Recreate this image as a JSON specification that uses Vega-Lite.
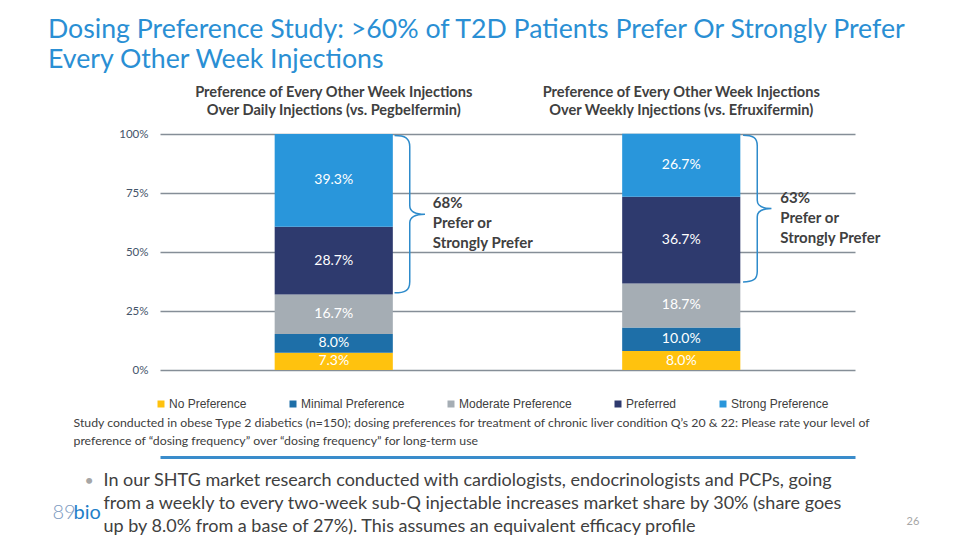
{
  "$schema": "https://vega.github.io/schema/vega-lite/v6.json",
  "width": 695,
  "height": 236,
  "autosize": {"type": "none"},
  "padding": {"left": 160, "top": 134, "right": 105, "bottom": 170},
  "background": "white",
  "config": {"view": {"stroke": null}, "font": "Lato"},
  "title": {
    "text": ["Dosing Preference Study: >60% of T2D Patients Prefer Or Strongly Prefer", "Every Other Week Injections"],
    "anchor": "start",
    "frame": "group",
    "dx": -112,
    "offset": 10,
    "font": "Lato",
    "fontSize": 26.7,
    "fontWeight": "normal",
    "color": "#2A8FD4",
    "lineHeight": 30
  },
  "datasets": {
    "notes": [
      {"group": "Preference of Every Other Week Injections|Over Daily Injections (vs. Pegbelfermin)", "note": "68%|Prefer or|Strongly Prefer"},
      {"group": "Preference of Every Other Week Injections|Over Weekly Injections (vs. Efruxifermin)", "note": "63%|Prefer or|Strongly Prefer"}
    ]
  },
  "data": {
    "values": [
      {"group": "Preference of Every Other Week Injections|Over Daily Injections (vs. Pegbelfermin)", "category": "No Preference", "rank": 1, "block": "other", "value": 0.073},
      {"group": "Preference of Every Other Week Injections|Over Daily Injections (vs. Pegbelfermin)", "category": "Minimal Preference", "rank": 2, "block": "other", "value": 0.080},
      {"group": "Preference of Every Other Week Injections|Over Daily Injections (vs. Pegbelfermin)", "category": "Moderate Preference", "rank": 3, "block": "other", "value": 0.167},
      {"group": "Preference of Every Other Week Injections|Over Daily Injections (vs. Pegbelfermin)", "category": "Preferred", "rank": 4, "block": "prefer", "value": 0.287},
      {"group": "Preference of Every Other Week Injections|Over Daily Injections (vs. Pegbelfermin)", "category": "Strong Preference", "rank": 5, "block": "prefer", "value": 0.393},
      {"group": "Preference of Every Other Week Injections|Over Weekly Injections (vs. Efruxifermin)", "category": "No Preference", "rank": 1, "block": "other", "value": 0.080},
      {"group": "Preference of Every Other Week Injections|Over Weekly Injections (vs. Efruxifermin)", "category": "Minimal Preference", "rank": 2, "block": "other", "value": 0.100},
      {"group": "Preference of Every Other Week Injections|Over Weekly Injections (vs. Efruxifermin)", "category": "Moderate Preference", "rank": 3, "block": "other", "value": 0.187},
      {"group": "Preference of Every Other Week Injections|Over Weekly Injections (vs. Efruxifermin)", "category": "Preferred", "rank": 4, "block": "prefer", "value": 0.367},
      {"group": "Preference of Every Other Week Injections|Over Weekly Injections (vs. Efruxifermin)", "category": "Strong Preference", "rank": 5, "block": "prefer", "value": 0.267}
    ]
  },
  "resolve": {"axis": {"x": "independent", "y": "independent"}},
  "layer": [
    {
      "mark": {"type": "bar", "width": {"band": 0.34}},
      "encoding": {
        "x": {
          "field": "group", "type": "nominal", "sort": null,
          "scale": {"paddingInner": 0, "paddingOuter": 0},
          "axis": {
            "orient": "top", "title": null, "labelExpr": "split(datum.label, '|')",
            "labelAngle": 0, "labelFont": "Lato", "labelFontWeight": "bold", "labelFontSize": 14.6,
            "labelColor": "#404040", "labelLineHeight": 18, "labelPadding": 35, "labelLimit": 0,
            "ticks": false, "domain": false, "grid": false
          }
        },
        "y": {
          "field": "value", "type": "quantitative", "stack": "zero",
          "scale": {"domain": [0, 1], "nice": false},
          "axis": {
            "orient": "left", "values": [0, 0.25, 0.5, 0.75, 1], "format": ".0%",
            "labelFont": "Lato", "labelFontSize": 11.5, "labelColor": "#44546A", "labelPadding": 12,
            "ticks": false, "domain": false, "grid": true, "gridColor": "#858E97", "gridWidth": 1.3,
            "title": [
              "In our SHTG market research conducted with cardiologists, endocrinologists and PCPs, going",
              "from a weekly to every two-week sub-Q injectable increases market share by 30% (share goes",
              "up by 8.0% from a base of 27%). This assumes an equivalent efficacy profile"
            ],
            "titleAngle": 0, "titleX": -57, "titleY": 346, "titleAlign": "left", "titleBaseline": "middle",
            "titleFont": "Lato", "titleFontSize": 18, "titleFontWeight": "normal", "titleColor": "#404040",
            "titleLineHeight": 23
          }
        },
        "color": {
          "field": "category", "type": "nominal",
          "scale": {
            "domain": ["No Preference", "Minimal Preference", "Moderate Preference", "Preferred", "Strong Preference"],
            "range": ["#FFC20E", "#1E6FA8", "#A5ADB4", "#2E3A6E", "#2996DB"]
          },
          "legend": {
            "orient": "none", "legendX": -5, "legendY": 264, "direction": "horizontal", "title": null,
            "symbolType": "square", "symbolSize": 49, "symbolStrokeWidth": 0,
            "labelFont": "Liberation Sans", "labelFontSize": 12, "labelColor": "#404040",
            "columnPadding": 40, "labelOffset": 2
          }
        },
        "order": {"field": "rank", "type": "quantitative"}
      }
    },
    {
      "mark": {"type": "text", "color": "white", "font": "Lato", "fontSize": 14, "baseline": "middle", "align": "center"},
      "encoding": {
        "x": {
          "field": "group", "type": "nominal", "sort": null,
          "axis": {
            "orient": "bottom", "labels": false, "ticks": false, "grid": false,
            "domain": true, "domainColor": "#3A8CCB", "domainWidth": 3, "offset": 87,
            "title": [
              "Study conducted in obese Type 2 diabetics (n=150); dosing preferences for treatment of chronic liver condition Q’s 20 & 22: Please rate your level of",
              "preference of “dosing frequency” over “dosing frequency” for long-term use"
            ],
            "titleX": -87, "titleY": -35, "titleAlign": "left", "titleBaseline": "middle",
            "titleFont": "Lato", "titleFontSize": 12.3, "titleFontWeight": "normal", "titleColor": "#404040",
            "titleLineHeight": 18
          }
        },
        "y": {
          "field": "value", "type": "quantitative", "stack": "zero", "bandPosition": 0.5,
          "axis": {
            "orient": "right", "labels": false, "ticks": false, "domain": false, "grid": false,
            "title": "26", "titleAngle": 0, "titleX": 51, "titleY": 387, "titleAlign": "left", "titleBaseline": "middle",
            "titleFont": "Lato", "titleFontSize": 11, "titleFontWeight": "normal", "titleColor": "#A6A6A6"
          }
        },
        "detail": {"field": "category", "type": "nominal"},
        "order": {"field": "rank", "type": "quantitative"},
        "text": {"field": "value", "type": "quantitative", "format": ".1%"}
      }
    },
    {
      "transform": [
        {"aggregate": [{"op": "sum", "field": "value", "as": "total"}], "groupby": ["group", "block"]}
      ],
      "mark": {
        "type": "point", "filled": false, "color": "#2E8BCB", "strokeWidth": 1.5, "xOffset": 76,
        "shape": "M -0.19 -0.98 C -0.06 -0.98 0 -0.95 0 -0.84 L 0 -0.11 C 0 -0.03 0.06 0 0.19 0 C 0.06 0 0 0.03 0 0.11 L 0 0.84 C 0 0.95 -0.06 0.98 -0.19 0.98"
      },
      "encoding": {
        "x": {
          "field": "group", "type": "nominal", "sort": null,
          "axis": {
            "orient": "bottom", "labels": false, "ticks": false, "grid": false, "domain": false,
            "title": "89", "titleX": -108, "titleY": 142, "titleAlign": "left", "titleBaseline": "middle",
            "titleFont": "Lato", "titleFontSize": 20, "titleFontWeight": 300, "titleColor": "#7C9AC0"
          }
        },
        "y": {
          "field": "total", "type": "quantitative", "stack": "zero", "bandPosition": 0.5,
          "axis": {
            "orient": "left", "labels": false, "ticks": false, "grid": false, "domain": false,
            "title": "•", "titleAngle": 0, "titleX": -76, "titleY": 346, "titleAlign": "left", "titleBaseline": "middle",
            "titleFont": "Lato", "titleFontSize": 16, "titleFontWeight": "normal", "titleColor": "#A6A6A6"
          }
        },
        "detail": {"field": "block", "type": "nominal"},
        "order": {"field": "block", "sort": "ascending"},
        "size": {
          "field": "total", "type": "quantitative",
          "scale": {"type": "pow", "exponent": 2, "domain": [0, 1], "range": [0, 55696]},
          "legend": null
        },
        "opacity": {"condition": {"test": "datum.block === 'prefer'", "value": 1}, "value": 0}
      }
    },
    {
      "transform": [
        {"aggregate": [{"op": "sum", "field": "value", "as": "total"}], "groupby": ["group", "block"]},
        {"lookup": "group", "from": {"data": {"name": "notes"}, "key": "group", "fields": ["note"]}}
      ],
      "mark": {
        "type": "text", "align": "left", "baseline": "middle", "dx": 99, "dy": -11,
        "font": "Lato", "fontSize": 15, "fontWeight": "bold", "color": "#404040",
        "lineBreak": "|", "lineHeight": 20
      },
      "encoding": {
        "x": {
          "field": "group", "type": "nominal", "sort": null,
          "axis": {
            "orient": "bottom", "labels": false, "ticks": false, "grid": false, "domain": false,
            "title": "bio", "titleX": -87, "titleY": 142, "titleAlign": "left", "titleBaseline": "middle",
            "titleFont": "Lato", "titleFontSize": 20, "titleFontWeight": "normal", "titleColor": "#1F7FC9"
          }
        },
        "y": {"field": "total", "type": "quantitative", "stack": "zero", "bandPosition": 0.5, "axis": null},
        "detail": {"field": "block", "type": "nominal"},
        "order": {"field": "block", "sort": "ascending"},
        "text": {"condition": {"test": "datum.block === 'prefer'", "field": "note"}, "value": ""}
      }
    }
  ]
}
